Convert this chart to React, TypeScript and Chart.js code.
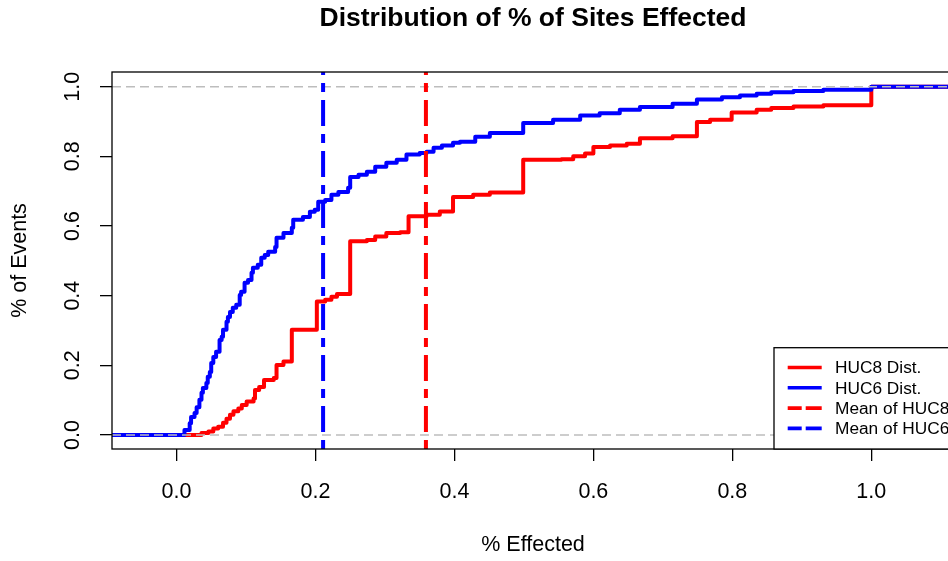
import React, { useEffect, useRef } from 'react';
import { Chart, registerables } from 'chart.js';

Chart.register(...registerables);

const chartTitle = 'Distribution of % of Sites Effected';
const xAxisTitle = '% Effected';
const yAxisTitle = '% of Events';

const xTicks = [0, 0.2, 0.4, 0.6, 0.8, 1.0];
const yTicks = [0, 0.2, 0.4, 0.6, 0.8, 1.0];

// HUC8 empirical CDF: jump locations and cumulative share after each jump
const huc8X = [0.036, 0.046, 0.053, 0.060, 0.067, 0.072, 0.077, 0.082, 0.089, 0.094, 0.101, 0.111, 0.113, 0.119, 0.126, 0.140, 0.144, 0.154, 0.166, 0.202, 0.214, 0.223, 0.231, 0.250, 0.274, 0.286, 0.302, 0.322, 0.334, 0.360, 0.379, 0.398, 0.427, 0.451, 0.499, 0.554, 0.571, 0.588, 0.600, 0.624, 0.648, 0.667, 0.714, 0.749, 0.768, 0.799, 0.835, 0.856, 0.888, 0.931, 1.0];
const huc8Y = [0.006, 0.010, 0.019, 0.024, 0.035, 0.047, 0.058, 0.068, 0.076, 0.086, 0.096, 0.105, 0.129, 0.138, 0.158, 0.164, 0.201, 0.211, 0.302, 0.383, 0.388, 0.397, 0.405, 0.556, 0.560, 0.570, 0.580, 0.582, 0.628, 0.632, 0.642, 0.683, 0.690, 0.696, 0.790, 0.792, 0.800, 0.808, 0.827, 0.831, 0.836, 0.852, 0.858, 0.899, 0.905, 0.926, 0.934, 0.939, 0.943, 0.947, 1.0];

// HUC6 empirical CDF
const huc6X = [0.0115, 0.019, 0.021, 0.026, 0.029, 0.033, 0.036, 0.038, 0.043, 0.045, 0.048, 0.050, 0.053, 0.057, 0.062, 0.065, 0.067, 0.072, 0.074, 0.077, 0.081, 0.086, 0.091, 0.093, 0.098, 0.103, 0.108, 0.110, 0.117, 0.122, 0.127, 0.132, 0.142, 0.144, 0.154, 0.166, 0.168, 0.182, 0.192, 0.199, 0.204, 0.214, 0.223, 0.233, 0.247, 0.250, 0.262, 0.274, 0.286, 0.302, 0.317, 0.331, 0.350, 0.360, 0.370, 0.382, 0.398, 0.408, 0.430, 0.451, 0.499, 0.542, 0.581, 0.609, 0.638, 0.667, 0.714, 0.749, 0.785, 0.811, 0.835, 0.856, 0.888, 0.931, 1.0];
const huc6Y = [0.014, 0.034, 0.052, 0.063, 0.080, 0.101, 0.121, 0.135, 0.149, 0.167, 0.181, 0.207, 0.224, 0.239, 0.273, 0.282, 0.302, 0.325, 0.339, 0.353, 0.365, 0.374, 0.402, 0.411, 0.437, 0.445, 0.466, 0.480, 0.489, 0.509, 0.517, 0.526, 0.540, 0.566, 0.580, 0.595, 0.618, 0.626, 0.641, 0.647, 0.670, 0.675, 0.690, 0.698, 0.710, 0.741, 0.747, 0.756, 0.770, 0.782, 0.790, 0.805, 0.810, 0.813, 0.825, 0.831, 0.839, 0.842, 0.856, 0.867, 0.896, 0.905, 0.917, 0.924, 0.934, 0.942, 0.951, 0.963, 0.970, 0.975, 0.980, 0.984, 0.988, 0.991, 1.0];

const meanHUC8 = 0.359;
const meanHUC6 = 0.211;

const legendLabels = ['HUC8 Dist.', 'HUC6 Dist.', 'Mean of HUC8', 'Mean of HUC6'];

const X_MIN = -0.0928;
const X_MAX = 1.119;
const Y_MIN = -0.0402;
const Y_MAX = 1.0422;

const FONT = '"Liberation Sans", Arial, Helvetica, sans-serif';
const RED = '#ff0000';
const BLUE = '#0000ff';
const GRAY = '#bdbdbd';
const MEAN_DASH = [9, 8, 26, 8];
const LEGEND_DASH = [14, 4, 20];

const ecdfPoints = (xs: number[], ys: number[]) => [
  { x: X_MIN, y: 0 },
  ...xs.map((x, i) => ({ x, y: ys[i] })),
  { x: X_MAX, y: ys[ys.length - 1] },
];

const boxPlugin = {
  id: 'rBox',
  afterDatasetsDraw(chart: any) {
    const { ctx, chartArea: a } = chart;
    ctx.save();
    ctx.strokeStyle = '#000';
    ctx.lineWidth = 1.3;
    ctx.setLineDash([]);
    ctx.strokeRect(a.left, a.top, a.right - a.left, a.bottom - a.top);
    ctx.restore();
  },
};

const legendPlugin = {
  id: 'rLegend',
  afterDraw(chart: any) {
    const { ctx, chartArea: a } = chart;
    const boxW = 180;
    const boxH = 101.3;
    const left = a.right - boxW;
    const top = a.bottom - boxH;
    ctx.save();
    ctx.fillStyle = '#fff';
    ctx.fillRect(left, top, boxW, boxH);
    ctx.strokeStyle = '#000';
    ctx.lineWidth = 1.3;
    ctx.setLineDash([]);
    ctx.strokeRect(left, top, boxW, boxH);
    const entries = legendLabels.map((lab) => chart.data.datasets.find((d: any) => d.label === lab));
    entries.forEach((ds: any, i: number) => {
      if (!ds) return;
      const y = top + 19.8 + i * 20.3;
      ctx.beginPath();
      ctx.strokeStyle = ds.borderColor;
      ctx.lineWidth = 3.6;
      ctx.lineCap = 'butt';
      ctx.setLineDash(ds.borderDash && ds.borderDash.length ? LEGEND_DASH : []);
      ctx.moveTo(left + 13.7, y);
      ctx.lineTo(left + 47.7, y);
      ctx.stroke();
      ctx.setLineDash([]);
      ctx.fillStyle = '#000';
      ctx.font = `17.3px ${FONT}`;
      ctx.textAlign = 'left';
      ctx.textBaseline = 'middle';
      ctx.fillText(ds.label, left + 61, y + 1);
    });
    ctx.restore();
  },
};

export default function App() {
  const ref = useRef<HTMLCanvasElement | null>(null);

  useEffect(() => {
    if (!ref.current) return;
    const tickFont = { family: FONT, size: 21.5 };
    const chart = new Chart(ref.current, {
      type: 'line',
      data: {
        datasets: [
          {
            label: legendLabels[0],
            data: ecdfPoints(huc8X, huc8Y),
            borderColor: RED,
            backgroundColor: RED,
            borderWidth: 4,
            stepped: 'before',
            pointRadius: 0,
            borderCapStyle: 'round',
            borderJoinStyle: 'round',
            order: 5,
          },
          {
            label: legendLabels[1],
            data: ecdfPoints(huc6X, huc6Y),
            borderColor: BLUE,
            backgroundColor: BLUE,
            borderWidth: 4,
            stepped: 'before',
            pointRadius: 0,
            borderCapStyle: 'round',
            borderJoinStyle: 'round',
            order: 4,
          },
          {
            label: 'zero',
            data: [{ x: X_MIN, y: 0 }, { x: X_MAX, y: 0 }],
            borderColor: GRAY,
            borderWidth: 1.5,
            borderDash: [9, 5],
            pointRadius: 0,
            order: 3,
          },
          {
            label: 'one',
            data: [{ x: X_MIN, y: 1 }, { x: X_MAX, y: 1 }],
            borderColor: GRAY,
            borderWidth: 1.5,
            borderDash: [9, 5],
            pointRadius: 0,
            order: 3,
          },
          {
            label: legendLabels[2],
            data: [{ x: meanHUC8, y: Y_MIN }, { x: meanHUC8, y: Y_MAX }],
            borderColor: RED,
            backgroundColor: RED,
            borderWidth: 4,
            borderDash: MEAN_DASH,
            pointRadius: 0,
            order: 1,
          },
          {
            label: legendLabels[3],
            data: [{ x: meanHUC6, y: Y_MIN }, { x: meanHUC6, y: Y_MAX }],
            borderColor: BLUE,
            backgroundColor: BLUE,
            borderWidth: 4,
            borderDash: MEAN_DASH,
            pointRadius: 0,
            order: 1,
          },
        ],
      },
      options: {
        responsive: false,
        animation: false,
        events: [],
        layout: { padding: { left: 0, right: 6, top: 0, bottom: 0 } },
        plugins: {
          legend: { display: false },
          tooltip: { enabled: false },
          title: {
            display: true,
            text: chartTitle,
            fullSize: false,
            color: '#000',
            font: { family: FONT, size: 26.5, weight: 'bold' },
            padding: { top: 2.6, bottom: 37.6 },
          },
        },
        scales: {
          x: {
            type: 'linear',
            min: X_MIN,
            max: X_MAX,
            bounds: 'data',
            afterBuildTicks: (s: any) => {
              s.ticks = xTicks.map((v) => ({ value: v }));
            },
            afterFit: (s: any) => {
              s.height = 112;
            },
            ticks: {
              autoSkip: false,
              minRotation: 0,
              maxRotation: 0,
              padding: 18,
              color: '#000',
              font: tickFont,
              callback: (v: any) => Number(v).toFixed(1),
            },
            grid: {
              drawOnChartArea: false,
              drawTicks: true,
              tickLength: 12,
              color: '#000',
              lineWidth: 1.3,
            },
            border: { display: false },
            title: {
              display: true,
              text: xAxisTitle,
              color: '#000',
              font: tickFont,
              padding: { top: 0, bottom: 3 },
            },
          },
          y: {
            type: 'linear',
            min: Y_MIN,
            max: Y_MAX,
            bounds: 'data',
            afterBuildTicks: (s: any) => {
              s.ticks = yTicks.map((v) => ({ value: v }));
            },
            afterFit: (s: any) => {
              s.width = 112;
            },
            ticks: {
              autoSkip: false,
              minRotation: 90,
              maxRotation: 90,
              crossAlign: 'center',
              padding: 12,
              color: '#000',
              font: tickFont,
              callback: (v: any) => Number(v).toFixed(1),
            },
            grid: {
              drawOnChartArea: false,
              drawTicks: true,
              tickLength: 12,
              color: '#000',
              lineWidth: 1.3,
            },
            border: { display: false },
            title: {
              display: true,
              text: yAxisTitle,
              color: '#000',
              font: tickFont,
              padding: { top: 7, bottom: 0 },
            },
          },
        },
      },
      plugins: [boxPlugin, legendPlugin],
    } as any);
    return () => chart.destroy();
  }, []);

  return (
    <div
      style={{
        position: 'fixed',
        left: 0,
        top: 0,
        width: 948,
        height: 561,
        overflow: 'hidden',
        background: '#fff',
      }}
    >
      <canvas ref={ref} width={960} height={561} style={{ display: 'block', width: 960, height: 561 }} />
    </div>
  );
}
